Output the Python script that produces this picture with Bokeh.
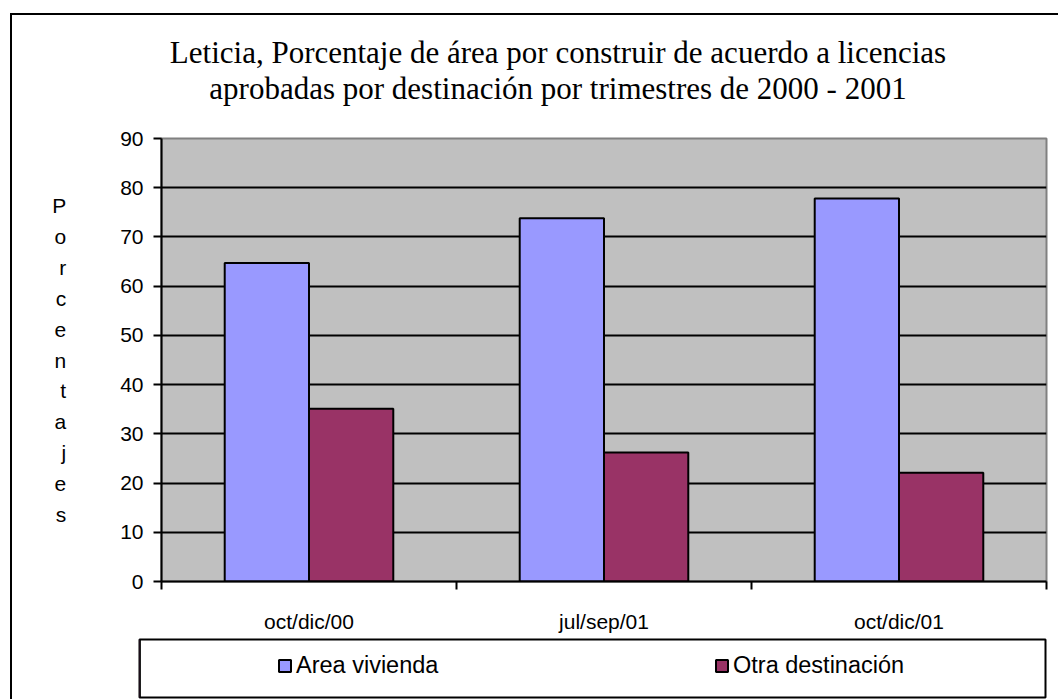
from bokeh.plotting import figure
from bokeh.models import Range1d, FixedTicker, Label, Legend, LegendItem
from bokeh.layouts import column
from bokeh.embed import file_html
from bokeh.resources import INLINE

# ---- data ----
categories = ["oct/dic/00", "jul/sep/01", "oct/dic/01"]
series_names = ["Area vivienda", "Otra destinación"]
area_vivienda = [64.7, 73.8, 77.8]
otra_destinacion = [35.1, 26.2, 22.1]
y_ticks = [0, 10, 20, 30, 40, 50, 60, 70, 80, 90]
title_lines = ["Leticia, Porcentaje de área por construir de acuerdo a licencias",
               "aprobadas por destinación por trimestres de 2000 - 2001"]
y_title = "Porcentajes"
colors = ["#9999FF", "#993366"]

YMAX = 90
NC = len(categories)
font = "Liberation Sans"
serif = "Liberation Serif"
W = 1046


def no_align(fig):
    if "frame_align" in fig.properties():
        fig.frame_align = False


# ---- title strip ----
H0 = 100
p0 = figure(width=W, height=H0, x_range=Range1d(0, W), y_range=Range1d(H0, 0),
            output_backend="svg", toolbar_location=None,
            x_axis_location=None, y_axis_location=None,
            min_border_left=0, min_border_right=0, min_border_top=0, min_border_bottom=0)
p0.grid.visible = False
p0.outline_line_color = None
p0.background_fill_color = "white"
no_align(p0)
for i, line in enumerate(title_lines):
    p0.add_layout(Label(x=545.5, y=37 + 36 * i, text=line, text_align="center",
                        text_baseline="alphabetic", text_font=serif,
                        text_font_size="31px", text_color="black"))

# ---- main chart ----
p = figure(width=W, height=520, x_range=Range1d(0, NC), y_range=Range1d(0, YMAX),
           output_backend="svg", toolbar_location=None,
           min_border_left=149, min_border_right=12,
           min_border_top=23, min_border_bottom=49)
no_align(p)
p.background_fill_color = "#C0C0C0"
p.border_fill_color = "white"
p.outline_line_color = "#808080"
p.outline_line_width = 2

p.xgrid.visible = False
p.ygrid.ticker = FixedTicker(ticks=[t for t in y_ticks if 0 < t < YMAX])
p.ygrid.grid_line_color = "black"
p.ygrid.grid_line_width = 2

p.yaxis.ticker = FixedTicker(ticks=y_ticks)
p.yaxis.axis_line_color = "black"
p.yaxis.axis_line_width = 2
p.yaxis.major_tick_line_width = 2
p.yaxis.major_tick_in = 0
p.yaxis.major_tick_out = 8
p.yaxis.minor_tick_line_color = None
p.yaxis.major_label_text_font = font
p.yaxis.major_label_text_font_size = "21px"
p.yaxis.major_label_text_color = "black"
p.yaxis.major_label_standoff = 10
p.yaxis.axis_label = "\n".join(y_title)
p.yaxis.axis_label_orientation = "horizontal"
p.yaxis.axis_label_text_align = "center"
p.yaxis.axis_label_text_font = font
p.yaxis.axis_label_text_font_size = "21px"
p.yaxis.axis_label_text_font_style = "normal"
p.yaxis.axis_label_text_color = "black"
p.yaxis.axis_label_text_line_height = 1.345
p.yaxis.axis_label_standoff = 51

centers = [i + 0.5 for i in range(NC)]
p.xaxis.ticker = FixedTicker(ticks=centers, minor_ticks=list(range(NC + 1)))
p.xaxis.major_label_overrides = {c: lab for c, lab in zip(centers, categories)}
p.xaxis.axis_line_color = "black"
p.xaxis.axis_line_width = 2
p.xaxis.major_tick_line_color = None
p.xaxis.major_tick_in = 0
p.xaxis.major_tick_out = 0
p.xaxis.minor_tick_line_color = "black"
p.xaxis.minor_tick_line_width = 2
p.xaxis.minor_tick_in = 0
p.xaxis.minor_tick_out = 8
p.xaxis.major_label_text_font = font
p.xaxis.major_label_text_font_size = "21px"
p.xaxis.major_label_text_color = "black"
p.xaxis.major_label_standoff = 20

bw = 2 / 7
off = 1 / 7
p.vbar(x=[c - off for c in centers], top=area_vivienda, width=bw, bottom=0,
       fill_color=colors[0], line_color="black", line_width=2)
p.vbar(x=[c + off for c in centers], top=otra_destinacion, width=bw, bottom=0,
       fill_color=colors[1], line_color="black", line_width=2)

# ---- legend strip ----
p2 = figure(width=W, height=64, x_range=Range1d(0, 1), y_range=Range1d(0, 1),
            output_backend="svg", toolbar_location=None,
            x_axis_location=None, y_axis_location=None,
            min_border_left=127, min_border_right=13,
            min_border_top=4, min_border_bottom=2)
no_align(p2)
p2.grid.visible = False
p2.background_fill_color = "white"
p2.outline_line_color = "black"
p2.outline_line_width = 2
items = []
for name, col in zip(series_names, colors):
    # legend swatch renderer; its single bar lies outside the visible range
    r = p2.vbar(x=[-5], top=[1], width=0.1, fill_color=col, line_color="black", line_width=2)
    items.append(LegendItem(label=name, renderers=[r]))
leg = Legend(items=items, orientation="horizontal", location=(138, 18),
             padding=0, spacing=0, margin=0, border_line_color=None,
             background_fill_alpha=0, glyph_width=15, glyph_height=15,
             label_standoff=4, label_width=418, label_height=24,
             label_text_font=font, label_text_font_size="23.5px",
             label_text_color="black")
p2.add_layout(leg, "center")

layout = column(p0, p, p2, spacing=0,
                styles={"margin-left": "10px", "margin-top": "13px",
                        "border-left": "2px solid black",
                        "border-top": "2px solid black"})

open("out.html", "w").write(file_html(layout, INLINE))
